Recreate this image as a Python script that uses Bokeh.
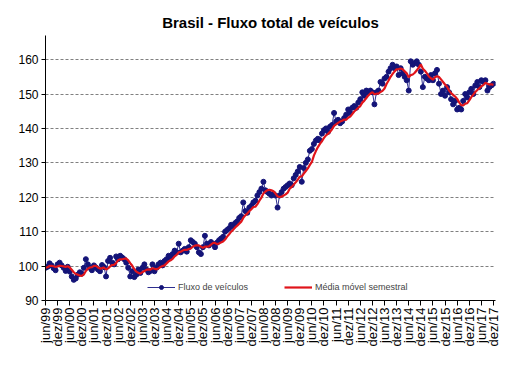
import numpy as np
import pandas as pd
from bokeh.plotting import figure
from bokeh.models import FixedTicker, Range1d, Legend, LegendItem
from bokeh.embed import file_html
from bokeh.resources import INLINE

# Monthly index, jun/99 .. dez/17
y1999 = [99.5, 99.8, 100.8, 100.2, 99.4, 98.8, 100.5]  # jun-dez
y2000 = [101.0, 100.2, 99.5, 98.6, 99.8, 98.4, 97.0, 96.0, 96.4, 97.5, 98.2, 97.8]
y2001 = [99.5, 102.0, 100.5, 99.5, 98.8, 100.2, 99.6, 99.0, 98.5, 100.3, 99.7, 97.0]
y2002 = [101.5, 102.4, 101.0, 100.5, 102.8, 102.0, 103.0, 102.5, 102.0, 101.0, 99.5, 97.0]
y2003 = [98.5, 96.8, 97.5, 99.0, 98.0, 99.5, 100.5, 99.0, 98.2, 98.6, 100.5, 98.5]
y2004 = [99.5, 100.5, 101.0, 100.2, 101.5, 102.0, 103.0, 102.5, 103.5, 104.5, 104.0, 106.5]
y2005 = [104.0, 104.5, 105.0, 104.2, 105.5, 107.5, 107.0, 106.5, 105.5, 104.0, 103.5, 105.5]
y2006 = [108.8, 106.5, 106.0, 107.0, 106.5, 105.5, 106.8, 107.5, 108.0, 108.5, 110.0, 110.5]
y2007 = [111.0, 112.0, 111.5, 112.5, 113.0, 114.0, 114.5, 118.5, 116.0, 115.5, 117.0, 117.5]
y2008 = [118.5, 119.0, 120.5, 121.5, 122.5, 124.5, 122.0, 121.5, 121.0, 120.5, 121.0, 120.5]
y2009 = [117.0, 120.5, 121.5, 122.5, 123.0, 123.5, 124.0, 123.5, 125.5, 126.5, 127.5, 128.8]
y2010 = [124.5, 128.5, 130.0, 131.0, 133.5, 134.0, 135.5, 136.5, 137.0, 136.5, 138.5, 139.5]
y2011 = [140.0, 139.0, 140.5, 141.0, 144.5, 142.0, 142.5, 141.5, 142.0, 143.0, 144.0, 145.5]
y2012 = [144.5, 146.0, 146.5, 146.0, 147.5, 148.5, 150.5, 149.5, 151.0, 150.5, 151.0, 150.5]
y2013 = [147.0, 150.5, 151.0, 153.5, 153.0, 154.5, 155.0, 156.5, 157.5, 158.5, 157.5, 158.0]
y2014 = [155.5, 157.5, 156.0, 155.0, 154.0, 151.0, 159.5, 158.5, 159.0, 159.5, 158.5, 156.5]
y2015 = [152.0, 155.0, 154.5, 154.0, 155.5, 154.0, 156.0, 157.0, 153.0, 150.0, 151.0, 149.5]
y2016 = [152.0, 150.5, 148.5, 147.0, 148.0, 145.5, 146.0, 145.5, 148.0, 150.0, 149.0, 150.5]
y2017 = [151.5, 150.0, 152.5, 153.5, 152.0, 154.0, 153.5, 154.0, 151.0, 152.0, 152.5, 153.0]

tick_labels = ["jun/99", "dez/99", "jun/00", "dez/00", "jun/01", "dez/01", "jun/02", "dez/02",
               "jun/03", "dez/03", "jun/04", "dez/04", "jun/05", "dez/05", "jun/06", "dez/06",
               "jun/07", "dez/07", "jun/08", "dez/08", "jun/09", "dez/09", "jun/10", "dez/10",
               "jun/11", "dez/11", "jun/12", "dez/12", "jun/13", "dez/13", "jun/14", "dez/14",
               "jun/15", "dez/15", "jun/16", "dez/16", "jun/17", "dez/17"]

fluxo = (y1999 + y2000 + y2001 + y2002 + y2003 + y2004 + y2005 + y2006 + y2007 + y2008
         + y2009 + y2010 + y2011 + y2012 + y2013 + y2014 + y2015 + y2016 + y2017)
months = list(range(len(fluxo)))
media = pd.Series(fluxo).rolling(6, min_periods=1).mean().tolist()

FONT = "Liberation Sans"

p = figure(width=507, height=351, output_backend="svg", toolbar_location=None,
           x_range=Range1d(0, 223), y_range=Range1d(90, 167),
           min_border_left=45, min_border_right=12, min_border_top=35, min_border_bottom=51)
p.outline_line_color = None
p.background_fill_color = "white"

p.title.text = "Brasil - Fluxo total de veículos"
p.title.text_font = FONT
p.title.text_font_size = "15px"
p.title.text_font_style = "bold"
p.title.align = "center"
p.title.text_color = "black"

r1 = p.line(months, fluxo, line_color="#2E2E8F", line_width=1)
r1c = p.scatter(months, fluxo, size=5, marker="circle", fill_color="#141478", line_color="#141478")
r2 = p.line(months, media, line_color="#E0141A", line_width=2.2)

# x axis
p.xaxis.ticker = FixedTicker(ticks=[i * 6 for i in range(len(tick_labels))])
p.xaxis.major_label_overrides = {i * 6: lab for i, lab in enumerate(tick_labels)}
p.xaxis.major_label_orientation = np.pi / 2
p.xaxis.major_label_text_font = FONT
p.xaxis.major_label_text_font_size = "13px"
p.xaxis.major_label_text_color = "black"
p.xaxis.major_tick_in = 0
p.xaxis.major_tick_out = 5
p.xaxis.minor_tick_line_color = None
p.xaxis.axis_line_color = "black"
p.xaxis.major_tick_line_color = "black"
p.xaxis.major_label_standoff = 2

# y axis
p.yaxis.ticker = FixedTicker(ticks=[90, 100, 110, 120, 130, 140, 150, 160])
p.yaxis.major_label_text_font = FONT
p.yaxis.major_label_text_font_size = "12px"
p.yaxis.major_label_text_color = "black"
p.yaxis.major_tick_in = 0
p.yaxis.major_tick_out = 4
p.yaxis.minor_tick_line_color = None
p.yaxis.axis_line_color = "black"
p.yaxis.major_tick_line_color = "black"
p.yaxis.major_label_standoff = 3

p.xgrid.grid_line_color = None
p.ygrid.grid_line_color = "#808080"
p.ygrid.grid_line_dash = "3 2"
p.ygrid.grid_line_width = 1

legend = Legend(items=[LegendItem(label="Fluxo de veículos", renderers=[r1, r1c]),
                       LegendItem(label="Média móvel semestral", renderers=[r2])],
                location=(102, 8), orientation="horizontal",
                label_text_font=FONT, label_text_font_size="9px",
                glyph_width=28, glyph_height=10, label_standoff=3, spacing=36,
                padding=2, margin=0, border_line_color=None,
                background_fill_alpha=0)
p.add_layout(legend)

open("out.html", "w").write(file_html(p, INLINE))
